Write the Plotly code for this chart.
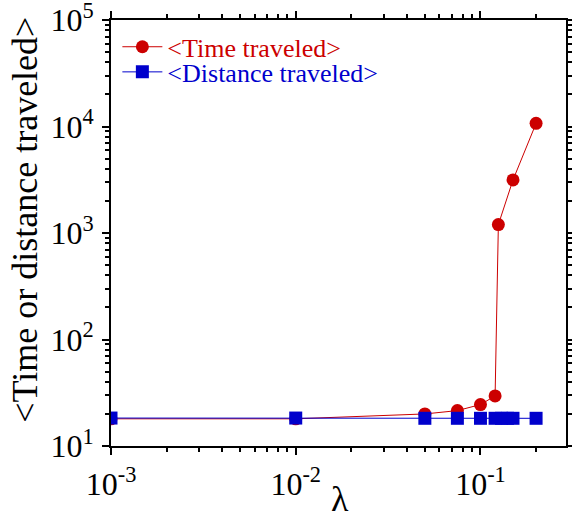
import plotly.graph_objects as go

lam_time = [0.001, 0.01, 0.05, 0.075, 0.1, 0.12, 0.125, 0.15, 0.2]
time_vals = [18, 18, 20, 21.5, 24.5, 29.5, 1200, 3150, 10700]

lam_dist = [0.001, 0.01, 0.05, 0.075, 0.1, 0.12, 0.13, 0.14, 0.15, 0.2]
dist_vals = [18.3, 18.3, 18.2, 18.2, 18.2, 18.2, 18.2, 18.2, 18.2, 18.2]

x_tickvals = [0.001, 0.01, 0.1]
x_ticktext = ["10<sup>-3</sup>", "10<sup>-2</sup>", "10<sup>-1</sup>"]
y_tickvals = [10, 100, 1000, 10000, 100000]
y_ticktext = ["10<sup>1</sup>", "10<sup>2</sup>", "10<sup>3</sup>", "10<sup>4</sup>", "10<sup>5</sup>"]

red = "#cc0000"
blue = "#0000cc"
font = "Liberation Serif"

fig = go.Figure()
fig.add_trace(go.Scatter(
    x=lam_time, y=time_vals, mode="lines+markers",
    name=f"<span style='color:{red}'>&lt;Time traveled&gt;</span>",
    line=dict(color=red, width=1),
    marker=dict(symbol="circle", size=13, color=red),
    legend="legend"))
fig.add_trace(go.Scatter(
    x=lam_dist, y=dist_vals, mode="lines+markers",
    name=f"<span style='color:{blue}'>&lt;Distance traveled&gt;</span>",
    line=dict(color=blue, width=1),
    marker=dict(symbol="square", size=13, color=blue),
    legend="legend2"))

axis_common = dict(
    type="log", showline=True, linecolor="black", linewidth=2, mirror="ticks",
    ticks="outside", ticklen=7, tickwidth=2, tickcolor="black",
    showgrid=False, zeroline=False, ticklabeloverflow="allow", automargin=False,
    tickfont=dict(family=font, size=32, color="black"),
    minor=dict(ticks="outside", ticklen=4, tickwidth=1.5, tickcolor="black",
               showgrid=False, dtick="D1"),
)

fig.update_xaxes(**axis_common, range=[-3, -0.537], tickmode="array",
                 tickvals=x_tickvals, ticktext=x_ticktext, ticklabelstandoff=2)
fig.update_yaxes(**axis_common, range=[1, 5], tickmode="array",
                 tickvals=y_tickvals, ticktext=y_ticktext, ticklabelstandoff=2)

fig.add_annotation(text="&lt;Time or distance traveled&gt;", textangle=-90,
                   xref="paper", yref="paper", x=-0.1895, y=0.5305,
                   xanchor="center", yanchor="middle", showarrow=False,
                   font=dict(family=font, size=36, color="black"))
fig.add_annotation(text="λ", xref="paper", yref="paper", x=0.503, y=-0.125,
                   xanchor="center", yanchor="middle", showarrow=False,
                   font=dict(family=font, size=36, color="black"))

legend_common = dict(xanchor="left", yanchor="middle", font=dict(family=font, size=26),
                     bgcolor="rgba(0,0,0,0)", borderwidth=0, itemwidth=40)

fig.update_layout(
    width=572, height=515,
    font=dict(family=font, size=24, color="black"),
    margin=dict(l=111, r=6, t=20, b=69),
    plot_bgcolor="white", paper_bgcolor="white",
    legend=dict(x=0.014, y=0.937, **legend_common),
    legend2=dict(x=0.014, y=0.878, **legend_common),
    showlegend=True,
)

fig.write_html("out.html")
